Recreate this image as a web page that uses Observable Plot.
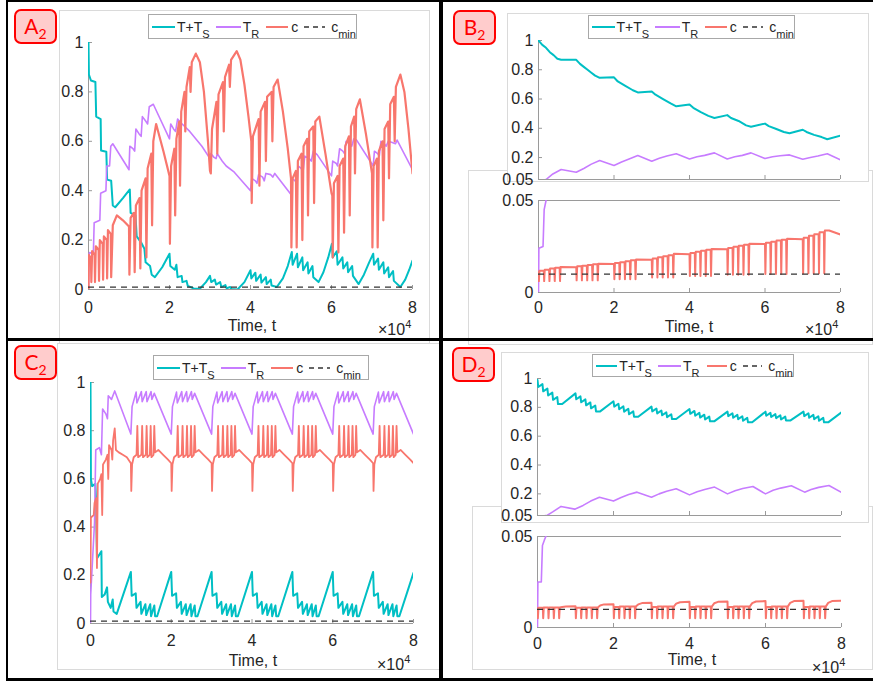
<!DOCTYPE html>
<html><head><meta charset="utf-8">
<script src="https://cdn.jsdelivr.net/npm/d3@7"></script>
<script src="https://cdn.jsdelivr.net/npm/@observablehq/plot@0.6"></script>
<style>
body{margin:0;background:#fff;}
#fig{position:relative;width:873px;height:681px;overflow:hidden;background:#fff;font-family:"Liberation Sans",Arial,sans-serif;color:#262626}
.gbox{position:absolute;border:1px solid #dadada;background:#fff;box-sizing:border-box}
.bl{position:absolute;background:#000}
.tag{position:absolute;box-sizing:border-box;width:43px;height:35px;border:2px solid #f00;border-radius:7px;background:#ffcccc;color:#f00;font-family:Lato,"Open Sans",sans-serif;font-size:21px;line-height:30px;text-align:center}
.tag sub{font-size:14px;vertical-align:-5px;line-height:0}
.legend{position:absolute;box-sizing:border-box;border:1px solid #a8a8a8;background:#fff;display:flex;align-items:center;font-size:14px;color:#262626;white-space:nowrap;padding-left:3px}
.legend sub{font-size:11px;vertical-align:-6px;line-height:0}
.legend svg{display:block}
.txt{position:absolute;font-size:16px;line-height:16px;color:#262626;white-space:nowrap}
.txt sup{font-size:11px;vertical-align:7px;line-height:0}
svg.plot{position:absolute}
</style>
</head><body>
<div id="fig"></div>
<script>
// ---------------- data (t in units of 10^4) ----------------
const xTicks = [0, 2, 4, 6, 8];
const yTicksFull = [0, 0.2, 0.4, 0.6, 0.8, 1];
const yTicksTop = [0.05, 0.2, 0.4, 0.6, 0.8, 1];
const yTicksBottom = [0, 0.05];
const cMin = 0.01;
const seriesNames = ["T+T_S", "T_R", "c", "c_min"];
const colors = {teal: "#00BFC4", purple: "#C77CFF", red: "#F8766D", min: "#333333"};

const aTeal = [[0,1.0],[0.01,0.87],[0.06,0.846],[0.17,0.84],[0.19,0.70],[0.30,0.69],[0.31,0.563],[0.44,0.558],[0.46,0.445],[0.56,0.44],[0.60,0.34],[0.66,0.333],[0.85,0.37],[1.02,0.405],[1.04,0.31],[1.16,0.30],[1.19,0.215],[1.30,0.19],[1.38,0.165],[1.41,0.11],[1.52,0.095],[1.56,0.06],[1.64,0.05],[1.82,0.09],[2.0,0.145],[2.02,0.095],[2.13,0.08],[2.17,0.1],[2.2,0.05],[2.3,0.055],[2.32,0.03],[2.42,0.035],[2.45,0.015],[2.6,0.004],[2.75,0.003],[2.9,0.03],[3.0,0.055],[3.03,0.03],[3.12,0.04],[3.15,0.02],[3.25,0.03],[3.28,0.01],[3.38,0.018],[3.41,0.005],[3.5,0.01],[3.53,0.002],[3.68,0.0],[3.85,0.03],[4.0,0.078],[4.02,0.045],[4.12,0.068],[4.14,0.035],[4.25,0.06],[4.27,0.028],[4.38,0.05],[4.4,0.022],[4.5,0.04],[4.52,0.016],[4.65,0.01],[4.8,0.045],[4.92,0.095],[5.02,0.152],[5.04,0.1],[5.15,0.145],[5.17,0.09],[5.28,0.13],[5.3,0.078],[5.41,0.11],[5.43,0.065],[5.53,0.095],[5.55,0.05],[5.68,0.03],[5.8,0.07],[5.92,0.13],[6.01,0.185],[6.03,0.13],[6.13,0.155],[6.15,0.1],[6.27,0.13],[6.29,0.085],[6.39,0.11],[6.41,0.07],[6.51,0.095],[6.53,0.055],[6.67,0.022],[6.8,0.06],[6.93,0.11],[7.03,0.145],[7.05,0.1],[7.15,0.125],[7.17,0.08],[7.28,0.11],[7.3,0.065],[7.4,0.09],[7.42,0.05],[7.52,0.075],[7.54,0.035],[7.7,0.01],[7.82,0.04],[7.92,0.08],[8.0,0.117]];
const aPurple = [[0,0],[0.01,0.14],[0.03,0.15],[0.12,0.145],[0.14,0.27],[0.28,0.28],[0.3,0.39],[0.43,0.4],[0.45,0.5],[0.52,0.5],[0.55,0.58],[0.6,0.59],[1.0,0.485],[1.02,0.58],[1.1,0.57],[1.14,0.56],[1.17,0.65],[1.25,0.63],[1.3,0.62],[1.33,0.7],[1.42,0.68],[1.46,0.67],[1.5,0.74],[1.6,0.75],[2.0,0.61],[2.03,0.67],[2.1,0.65],[2.15,0.64],[2.2,0.69],[2.28,0.675],[2.5,0.64],[2.8,0.58],[3.0,0.53],[3.02,0.55],[3.1,0.535],[3.15,0.53],[3.18,0.55],[3.3,0.52],[3.4,0.5],[3.6,0.475],[4.0,0.4],[4.03,0.45],[4.12,0.44],[4.16,0.43],[4.2,0.465],[4.3,0.455],[4.34,0.44],[4.38,0.47],[4.5,0.465],[4.55,0.455],[4.6,0.47],[5.0,0.385],[5.03,0.45],[5.1,0.44],[5.15,0.43],[5.18,0.5],[5.25,0.49],[5.3,0.48],[5.34,0.54],[5.45,0.53],[5.5,0.52],[5.55,0.56],[5.65,0.545],[6.0,0.46],[6.03,0.52],[6.12,0.51],[6.15,0.5],[6.2,0.57],[6.28,0.56],[6.32,0.55],[6.36,0.6],[6.45,0.59],[6.5,0.58],[6.55,0.61],[6.62,0.605],[7.03,0.5],[7.06,0.56],[7.14,0.55],[7.18,0.54],[7.22,0.6],[7.3,0.59],[7.35,0.58],[7.4,0.6],[7.5,0.595],[7.58,0.59],[7.62,0.605],[8.0,0.485]];
const aRed = [[0,0],[0.01,0.14],[0.06,0.125],[0.07,0.03],[0.09,0.155],[0.15,0.14],[0.16,0.03],[0.18,0.175],[0.25,0.16],[0.26,0.035],[0.28,0.2],[0.35,0.185],[0.36,0.04],[0.38,0.215],[0.45,0.2],[0.46,0.045],[0.48,0.24],[0.55,0.225],[0.56,0.05],[0.6,0.26],[0.7,0.3],[0.85,0.28],[1.0,0.255],[1.01,0.06],[1.04,0.29],[1.12,0.31],[1.14,0.07],[1.17,0.34],[1.26,0.37],[1.28,0.085],[1.31,0.4],[1.41,0.45],[1.43,0.13],[1.46,0.49],[1.55,0.55],[1.57,0.26],[1.6,0.6],[1.67,0.67],[1.85,0.56],[2.0,0.46],[2.01,0.185],[2.04,0.5],[2.12,0.57],[2.14,0.3],[2.17,0.61],[2.24,0.68],[2.26,0.42],[2.29,0.72],[2.37,0.8],[2.39,0.64],[2.42,0.82],[2.5,0.9],[2.52,0.8],[2.55,0.92],[2.65,0.955],[2.75,0.92],[2.85,0.8],[2.95,0.6],[3.0,0.48],[3.02,0.47],[3.05,0.65],[3.16,0.76],[3.18,0.55],[3.21,0.79],[3.32,0.84],[3.34,0.64],[3.37,0.86],[3.47,0.91],[3.49,0.82],[3.52,0.93],[3.66,0.965],[3.75,0.93],[3.85,0.83],[3.95,0.7],[4.02,0.6],[4.03,0.35],[4.06,0.62],[4.2,0.69],[4.22,0.42],[4.25,0.72],[4.36,0.76],[4.38,0.52],[4.41,0.78],[4.52,0.8],[4.54,0.6],[4.57,0.82],[4.67,0.85],[4.8,0.72],[4.92,0.57],[5.0,0.45],[5.01,0.17],[5.04,0.45],[5.12,0.48],[5.14,0.17],[5.17,0.52],[5.26,0.55],[5.28,0.2],[5.31,0.58],[5.4,0.61],[5.42,0.3],[5.45,0.64],[5.55,0.66],[5.57,0.35],[5.6,0.68],[5.7,0.7],[5.85,0.55],[6.0,0.39],[6.02,0.38],[6.03,0.13],[6.06,0.43],[6.15,0.46],[6.17,0.15],[6.2,0.5],[6.29,0.53],[6.31,0.23],[6.34,0.58],[6.43,0.62],[6.45,0.3],[6.48,0.66],[6.56,0.7],[6.58,0.47],[6.61,0.73],[6.7,0.77],[6.85,0.63],[7.0,0.47],[7.01,0.17],[7.04,0.5],[7.12,0.53],[7.14,0.17],[7.17,0.56],[7.26,0.6],[7.28,0.28],[7.31,0.65],[7.4,0.68],[7.42,0.45],[7.45,0.75],[7.54,0.78],[7.56,0.6],[7.59,0.82],[7.7,0.87],[7.8,0.8],[7.9,0.65],[8.0,0.47]];

const bTeal = [[0,1.0],[0.1,0.97],[0.2,0.95],[0.3,0.92],[0.4,0.9],[0.5,0.875],[0.6,0.868],[1.0,0.868],[1.1,0.84],[1.2,0.82],[1.3,0.8],[1.4,0.78],[1.5,0.76],[1.62,0.745],[2.0,0.748],[2.1,0.72],[2.3,0.69],[2.5,0.66],[2.63,0.645],[3.0,0.652],[3.1,0.63],[3.3,0.6],[3.5,0.57],[3.65,0.55],[4.0,0.562],[4.1,0.54],[4.3,0.51],[4.5,0.485],[4.66,0.47],[5.0,0.49],[5.1,0.47],[5.3,0.45],[5.5,0.42],[5.63,0.41],[6.0,0.432],[6.1,0.415],[6.3,0.395],[6.5,0.375],[6.65,0.366],[7.0,0.39],[7.1,0.375],[7.3,0.355],[7.5,0.34],[7.65,0.325],[8.0,0.35]];
const bPurple = [[0,0],[0.01,0.024],[0.12,0.025],[0.15,0.045],[0.2,0.05],[0.38,0.088],[0.6,0.118],[1.0,0.1],[1.2,0.125],[1.4,0.155],[1.62,0.18],[2.0,0.146],[2.2,0.17],[2.4,0.19],[2.63,0.214],[3.0,0.175],[3.2,0.195],[3.4,0.21],[3.65,0.226],[4.0,0.19],[4.2,0.205],[4.4,0.215],[4.66,0.232],[5.0,0.19],[5.2,0.205],[5.4,0.215],[5.63,0.232],[6.0,0.193],[6.2,0.205],[6.4,0.212],[6.65,0.218],[7.0,0.188],[7.2,0.2],[7.4,0.21],[7.65,0.226],[8.0,0.185]];
const bRed = [[0,0.011],[0.01,0.0062],[0.025,0.0118],[0.14,0.0118],[0.15,0.0062],[0.165,0.0124],[0.28,0.0124],[0.29,0.0062],[0.305,0.013],[0.42,0.013],[0.43,0.0062],[0.445,0.0134],[0.56,0.0134],[0.57,0.0062],[0.585,0.0138],[1.0,0.0137],
[1.01,0.0066],[1.025,0.0142],[1.14,0.0142],[1.15,0.0066],[1.165,0.0146],[1.28,0.0146],[1.29,0.0066],[1.305,0.015],[1.42,0.015],[1.43,0.0066],[1.445,0.0153],[1.56,0.0153],[1.57,0.0066],[1.585,0.0156],[2.0,0.0155],
[2.01,0.0072],[2.025,0.016],[2.14,0.016],[2.15,0.0072],[2.165,0.0165],[2.28,0.0165],[2.29,0.0072],[2.305,0.017],[2.42,0.017],[2.43,0.0072],[2.445,0.0175],[2.56,0.0175],[2.57,0.0072],[2.585,0.0179],[3.0,0.0178],
[3.01,0.0082],[3.025,0.0185],[3.14,0.0185],[3.15,0.0082],[3.165,0.0191],[3.28,0.0191],[3.29,0.0082],[3.305,0.0197],[3.42,0.0197],[3.43,0.0082],[3.445,0.0203],[3.56,0.0203],[3.57,0.0082],[3.585,0.021],[4.0,0.0208],
[4.01,0.009],[4.025,0.0215],[4.14,0.0215],[4.15,0.009],[4.165,0.0221],[4.28,0.0221],[4.29,0.009],[4.305,0.0227],[4.42,0.0227],[4.43,0.009],[4.445,0.0232],[4.56,0.0232],[4.57,0.009],[4.585,0.0237],[5.0,0.0235],
[5.01,0.0096],[5.025,0.0242],[5.14,0.0242],[5.15,0.0096],[5.165,0.0248],[5.28,0.0248],[5.29,0.0096],[5.305,0.0254],[5.42,0.0254],[5.43,0.0096],[5.445,0.026],[5.56,0.026],[5.57,0.0096],[5.585,0.0265],[6.0,0.0263],
[6.01,0.0101],[6.025,0.027],[6.14,0.027],[6.15,0.0101],[6.165,0.0276],[6.28,0.0276],[6.29,0.0101],[6.305,0.0282],[6.42,0.0282],[6.43,0.0101],[6.445,0.0287],[6.56,0.0287],[6.57,0.0101],[6.585,0.0292],[7.0,0.029],
[7.01,0.0104],[7.025,0.0298],[7.14,0.0298],[7.15,0.0104],[7.165,0.0308],[7.28,0.0308],[7.29,0.0104],[7.305,0.0317],[7.42,0.0317],[7.43,0.0104],[7.445,0.0327],[7.56,0.0327],[7.57,0.0104],[7.585,0.0337],[7.7,0.0337],[8.0,0.0315]];

const cTeal = [[0,1.0],[0.01,0.6],[0.04,0.57],[0.12,0.58],[0.14,0.5],[0.16,0.27],[0.27,0.3],[0.28,0.11],[0.35,0.12],[0.41,0.15],[0.43,0.09],[0.5,0.065],[0.55,0.1],[0.57,0.05],[0.65,0.04],
[1,0.214],[1.02,0.115],[1.12,0.125],[1.14,0.065],[1.24,0.09],[1.26,0.04],[1.36,0.08],[1.38,0.035],[1.48,0.08],[1.5,0.03],[1.58,0.075],[1.6,0.03],[1.65,0.03],
[2,0.214],[2.02,0.115],[2.12,0.125],[2.14,0.065],[2.24,0.09],[2.26,0.04],[2.36,0.08],[2.38,0.035],[2.48,0.08],[2.5,0.03],[2.58,0.075],[2.6,0.03],[2.65,0.03],
[3,0.214],[3.02,0.115],[3.12,0.125],[3.14,0.065],[3.24,0.09],[3.26,0.04],[3.36,0.08],[3.38,0.035],[3.48,0.08],[3.5,0.03],[3.58,0.075],[3.6,0.03],[3.65,0.03],
[4,0.214],[4.02,0.115],[4.12,0.125],[4.14,0.065],[4.24,0.09],[4.26,0.04],[4.36,0.08],[4.38,0.035],[4.48,0.08],[4.5,0.03],[4.58,0.075],[4.6,0.03],[4.65,0.03],
[5,0.214],[5.02,0.115],[5.12,0.125],[5.14,0.065],[5.24,0.09],[5.26,0.04],[5.36,0.08],[5.38,0.035],[5.48,0.08],[5.5,0.03],[5.58,0.075],[5.6,0.03],[5.65,0.03],
[6,0.214],[6.02,0.115],[6.12,0.125],[6.14,0.065],[6.24,0.09],[6.26,0.04],[6.36,0.08],[6.38,0.035],[6.48,0.08],[6.5,0.03],[6.58,0.075],[6.6,0.03],[6.65,0.03],
[7,0.214],[7.02,0.115],[7.12,0.125],[7.14,0.065],[7.24,0.09],[7.26,0.04],[7.36,0.08],[7.38,0.035],[7.48,0.08],[7.5,0.03],[7.58,0.075],[7.6,0.03],[7.65,0.03],
[8,0.21]];
const cPurple = [[0,0],[0.005,0.12],[0.1,0.42],[0.13,0.72],[0.22,0.73],[0.27,0.7],[0.3,0.89],[0.38,0.87],[0.42,0.85],[0.44,0.945],[0.52,0.93],[0.6,0.965],
[1,0.786],[1.03,0.9],[1.13,0.96],[1.15,0.915],[1.26,0.962],[1.28,0.92],[1.38,0.962],[1.4,0.92],[1.5,0.962],[1.52,0.93],[1.58,0.955],
[2,0.786],[2.03,0.9],[2.13,0.96],[2.15,0.915],[2.26,0.962],[2.28,0.92],[2.38,0.962],[2.4,0.92],[2.5,0.962],[2.52,0.93],[2.58,0.955],
[3,0.786],[3.03,0.9],[3.13,0.96],[3.15,0.915],[3.26,0.962],[3.28,0.92],[3.38,0.962],[3.4,0.92],[3.5,0.962],[3.52,0.93],[3.58,0.955],
[4,0.786],[4.03,0.9],[4.13,0.96],[4.15,0.915],[4.26,0.962],[4.28,0.92],[4.38,0.962],[4.4,0.92],[4.5,0.962],[4.52,0.93],[4.58,0.955],
[5,0.786],[5.03,0.9],[5.13,0.96],[5.15,0.915],[5.26,0.962],[5.28,0.92],[5.38,0.962],[5.4,0.92],[5.5,0.962],[5.52,0.93],[5.58,0.955],
[6,0.786],[6.03,0.9],[6.13,0.96],[6.15,0.915],[6.26,0.962],[6.28,0.92],[6.38,0.962],[6.4,0.92],[6.5,0.962],[6.52,0.93],[6.58,0.955],
[7,0.786],[7.03,0.9],[7.13,0.96],[7.15,0.915],[7.26,0.962],[7.28,0.92],[7.38,0.962],[7.4,0.92],[7.5,0.962],[7.52,0.93],[7.58,0.955],
[8,0.786]];
const cRed = [[0,0.17],[0.01,0.44],[0.08,0.45],[0.1,0.5],[0.14,0.52],[0.16,0.23],[0.18,0.58],[0.24,0.6],[0.27,0.62],[0.29,0.45],[0.31,0.66],[0.38,0.68],[0.42,0.7],[0.44,0.6],[0.46,0.74],[0.52,0.72],[0.54,0.68],[0.56,0.76],[0.6,0.81],[0.63,0.72],[0.7,0.71],[0.8,0.7],[0.9,0.69],
[1,0.665],[1.01,0.55],[1.03,0.66],[1.07,0.69],[1.14,0.7],[1.16,0.82],[1.18,0.69],[1.26,0.7],[1.28,0.82],[1.3,0.69],[1.37,0.7],[1.39,0.82],[1.41,0.69],[1.47,0.7],[1.49,0.82],[1.51,0.69],[1.56,0.7],[1.58,0.82],[1.6,0.71],[1.68,0.72],[1.8,0.7],[1.92,0.68],
[2,0.665],[2.01,0.55],[2.03,0.66],[2.07,0.69],[2.14,0.7],[2.16,0.82],[2.18,0.69],[2.26,0.7],[2.28,0.82],[2.3,0.69],[2.37,0.7],[2.39,0.82],[2.41,0.69],[2.47,0.7],[2.49,0.82],[2.51,0.69],[2.56,0.7],[2.58,0.82],[2.6,0.71],[2.68,0.72],[2.8,0.7],[2.92,0.68],
[3,0.665],[3.01,0.55],[3.03,0.66],[3.07,0.69],[3.14,0.7],[3.16,0.82],[3.18,0.69],[3.26,0.7],[3.28,0.82],[3.3,0.69],[3.37,0.7],[3.39,0.82],[3.41,0.69],[3.47,0.7],[3.49,0.82],[3.51,0.69],[3.56,0.7],[3.58,0.82],[3.6,0.71],[3.68,0.72],[3.8,0.7],[3.92,0.68],
[4,0.665],[4.01,0.55],[4.03,0.66],[4.07,0.69],[4.14,0.7],[4.16,0.82],[4.18,0.69],[4.26,0.7],[4.28,0.82],[4.3,0.69],[4.37,0.7],[4.39,0.82],[4.41,0.69],[4.47,0.7],[4.49,0.82],[4.51,0.69],[4.56,0.7],[4.58,0.82],[4.6,0.71],[4.68,0.72],[4.8,0.7],[4.92,0.68],
[5,0.665],[5.01,0.55],[5.03,0.66],[5.07,0.69],[5.14,0.7],[5.16,0.82],[5.18,0.69],[5.26,0.7],[5.28,0.82],[5.3,0.69],[5.37,0.7],[5.39,0.82],[5.41,0.69],[5.47,0.7],[5.49,0.82],[5.51,0.69],[5.56,0.7],[5.58,0.82],[5.6,0.71],[5.68,0.72],[5.8,0.7],[5.92,0.68],
[6,0.665],[6.01,0.55],[6.03,0.66],[6.07,0.69],[6.14,0.7],[6.16,0.82],[6.18,0.69],[6.26,0.7],[6.28,0.82],[6.3,0.69],[6.37,0.7],[6.39,0.82],[6.41,0.69],[6.47,0.7],[6.49,0.82],[6.51,0.69],[6.56,0.7],[6.58,0.82],[6.6,0.71],[6.68,0.72],[6.8,0.7],[6.92,0.68],
[7,0.665],[7.01,0.55],[7.03,0.66],[7.07,0.69],[7.14,0.7],[7.16,0.82],[7.18,0.69],[7.26,0.7],[7.28,0.82],[7.3,0.69],[7.37,0.7],[7.39,0.82],[7.41,0.69],[7.47,0.7],[7.49,0.82],[7.51,0.69],[7.56,0.7],[7.58,0.82],[7.6,0.71],[7.68,0.72],[7.8,0.7],[7.92,0.68],
[8,0.665]];

const dTeal = [[0,0.99],[0.02,0.941],[0.13,0.961],[0.15,0.911],[0.26,0.931],[0.28,0.882],[0.39,0.902],[0.41,0.852],[0.52,0.872],[0.54,0.823],[0.65,0.823],
[1,0.897],[1.02,0.856],[1.13,0.876],[1.15,0.835],[1.26,0.855],[1.28,0.814],[1.39,0.834],[1.41,0.793],[1.52,0.813],[1.54,0.772],[1.65,0.772],
[2,0.842],[2.02,0.805],[2.13,0.825],[2.15,0.787],[2.26,0.807],[2.28,0.77],[2.39,0.79],[2.41,0.752],[2.52,0.772],[2.54,0.735],[2.65,0.735],
[3,0.805],[3.02,0.772],[3.13,0.792],[3.15,0.758],[3.26,0.778],[3.28,0.745],[3.39,0.765],[3.41,0.732],[3.52,0.752],[3.54,0.719],[3.65,0.719],
[4,0.788],[4.02,0.755],[4.13,0.775],[4.15,0.742],[4.26,0.762],[4.28,0.729],[4.39,0.749],[4.41,0.716],[4.52,0.736],[4.54,0.703],[4.65,0.703],
[5,0.77],[5.02,0.739],[5.13,0.759],[5.15,0.728],[5.26,0.748],[5.28,0.718],[5.39,0.738],[5.41,0.707],[5.52,0.727],[5.54,0.696],[5.65,0.696],
[6,0.77],[6.02,0.742],[6.13,0.762],[6.15,0.733],[6.26,0.753],[6.28,0.725],[6.39,0.745],[6.41,0.716],[6.52,0.736],[6.54,0.708],[6.65,0.708],
[7,0.77],[7.02,0.739],[7.13,0.759],[7.15,0.728],[7.26,0.748],[7.28,0.718],[7.39,0.738],[7.41,0.707],[7.52,0.727],[7.54,0.696],[7.65,0.696],
[8,0.765]];
const dPurple = [[0,0],[0.01,0.025],[0.1,0.025],[0.13,0.045],[0.18,0.048],[0.22,0.05],[0.26,0.052],[0.4,0.075],[0.62,0.113],[0.98,0.094],[1.2,0.12],[1.4,0.15],[1.63,0.177],[2.0,0.15],[2.2,0.175],[2.4,0.195],[2.62,0.212],[3.0,0.177],[3.2,0.2],[3.4,0.218],[3.65,0.235],[4.0,0.193],[4.2,0.215],[4.4,0.23],[4.66,0.247],[5.0,0.2],[5.2,0.222],[5.4,0.237],[5.67,0.251],[6.0,0.2],[6.2,0.225],[6.4,0.24],[6.68,0.256],[7.03,0.212],[7.2,0.23],[7.4,0.245],[7.67,0.258],[8.0,0.21]];
const dRed = [[0,0.0105],[0.01,0.0051],[0.025,0.0108],[0.14,0.0108],[0.15,0.0051],[0.165,0.011],[0.28,0.011],[0.29,0.0051],[0.305,0.011],[0.42,0.011],[0.43,0.0051],[0.445,0.011],[0.56,0.011],[0.57,0.0051],[0.585,0.011],[0.65,0.0113],[0.75,0.0116],[1.0,0.0117],
[1.01,0.0051],[1.025,0.0108],[1.14,0.0108],[1.15,0.0051],[1.165,0.011],[1.28,0.011],[1.29,0.0051],[1.305,0.011],[1.42,0.011],[1.43,0.0051],[1.445,0.011],[1.56,0.011],[1.57,0.0051],[1.585,0.011],[1.65,0.0121],[1.75,0.0127],[2.0,0.0128],
[2.01,0.0051],[2.025,0.0112],[2.14,0.0112],[2.15,0.0051],[2.165,0.0115],[2.28,0.0115],[2.29,0.0051],[2.305,0.0115],[2.42,0.0115],[2.43,0.0051],[2.445,0.0115],[2.56,0.0115],[2.57,0.0051],[2.585,0.0115],[2.65,0.0127],[2.75,0.0134],[3.0,0.0136],
[3.01,0.0051],[3.025,0.0112],[3.14,0.0112],[3.15,0.0051],[3.165,0.0115],[3.28,0.0115],[3.29,0.0051],[3.305,0.0115],[3.42,0.0115],[3.43,0.0051],[3.445,0.0115],[3.56,0.0115],[3.57,0.0051],[3.585,0.0115],[3.65,0.0131],[3.75,0.0139],[4.0,0.0141],
[4.01,0.0051],[4.025,0.0112],[4.14,0.0112],[4.15,0.0051],[4.165,0.0115],[4.28,0.0115],[4.29,0.0051],[4.305,0.0115],[4.42,0.0115],[4.43,0.0051],[4.445,0.0115],[4.56,0.0115],[4.57,0.0051],[4.585,0.0115],[4.65,0.0133],[4.75,0.0141],[5.0,0.0143],
[5.01,0.0051],[5.025,0.0112],[5.14,0.0112],[5.15,0.0051],[5.165,0.0115],[5.28,0.0115],[5.29,0.0051],[5.305,0.0115],[5.42,0.0115],[5.43,0.0051],[5.445,0.0115],[5.56,0.0115],[5.57,0.0051],[5.585,0.0115],[5.65,0.0134],[5.75,0.0143],[6.0,0.0145],
[6.01,0.0051],[6.025,0.0112],[6.14,0.0112],[6.15,0.0051],[6.165,0.0115],[6.28,0.0115],[6.29,0.0051],[6.305,0.0115],[6.42,0.0115],[6.43,0.0051],[6.445,0.0115],[6.56,0.0115],[6.57,0.0051],[6.585,0.0115],[6.65,0.0135],[6.75,0.0145],[7.0,0.0147],
[7.01,0.0051],[7.025,0.0112],[7.14,0.0112],[7.15,0.0051],[7.165,0.0115],[7.28,0.0115],[7.29,0.0051],[7.305,0.0115],[7.42,0.0115],[7.43,0.0051],[7.445,0.0115],[7.56,0.0115],[7.57,0.0051],[7.585,0.0115],[7.65,0.0135],[7.75,0.0145],[8.0,0.0147]];

// ---------------- layout helpers ----------------
const fig = document.getElementById("fig");
function el(cls, css, html) {
  const d = document.createElement("div");
  d.className = cls;
  Object.assign(d.style, css);
  if (html != null) d.innerHTML = html;
  fig.appendChild(d);
  return d;
}
const px = v => v + "px";
function gbox(l, t, w, h) { el("gbox", {left: px(l), top: px(t), width: px(w), height: px(h)}); }

function subplot({x0, x1, y0, y1, yDomain, yTicks, xLabels, xPad = 11, topLine = false, teal, purple, red, redW = 2}) {
  const mL = 52, mR = 12, mT = 12, mB = xLabels ? 34 : 8;
  const pw = x1 - x0, ph = y1 - y0;
  const axisColor = "#9a9a9a";
  const marks = [
    Plot.ruleX([0], {stroke: axisColor, strokeWidth: 1}),
    Plot.ruleY([yDomain[0]], {stroke: axisColor, strokeWidth: 1}),
    topLine ? Plot.ruleY([yDomain[1]], {stroke: axisColor, strokeWidth: 1}) : null,
    Plot.tickX(xTicks, {x: d => d, insetTop: ph - 4, stroke: axisColor}),
    Plot.tickY(yTicks, {y: d => d, insetRight: pw - 4, stroke: axisColor}),
    Plot.line(teal, {x: d => d[0], y: d => d[1], stroke: colors.teal, strokeWidth: 2, clip: true}),
    Plot.line(purple, {x: d => d[0], y: d => d[1], stroke: colors.purple, strokeWidth: 1.6, clip: true}),
    Plot.line(red, {x: d => d[0], y: d => d[1], stroke: colors.red, strokeWidth: redW, clip: true}),
    (cMin >= yDomain[0] && cMin <= yDomain[1]) ? Plot.ruleY([cMin], {stroke: colors.min, strokeWidth: 1.3, strokeDasharray: "6,5"}) : null
  ];
  const svg = Plot.plot({
    width: pw + mL + mR, height: ph + mT + mB,
    marginLeft: mL, marginRight: mR, marginTop: mT, marginBottom: mB,
    x: {domain: [0, 8], axis: xLabels ? "bottom" : null, ticks: xTicks, tickSize: 0, tickPadding: xPad, tickFormat: d => String(d), label: null},
    y: {domain: yDomain, ticks: yTicks, tickSize: 0, tickPadding: 5, tickFormat: d => String(d), label: null},
    style: {fontFamily: '"Liberation Sans", Arial, sans-serif', fontSize: "16px", color: "#262626", background: "transparent", overflow: "visible"},
    marks
  });
  svg.classList.add("plot");
  svg.style.position = "absolute";
  svg.style.left = px(x0 - mL);
  svg.style.top = px(y0 - mT);
  fig.appendChild(svg);
}

function swatch(color, dashed, w) {
  return `<svg width="${w}" height="10"><line x1="0" y1="5" x2="${w}" y2="5" stroke="${color}" stroke-width="${dashed ? 1.3 : 2}" ${dashed ? 'stroke-dasharray="5,4"' : ''}/></svg>`;
}
function legend(l, t, w, h) {
  const html =
    `${swatch(colors.teal, false, 23)}<span style="margin-left:2px;margin-right:6px">T+T<sub>S</sub></span>` +
    `${swatch(colors.purple, false, 25)}<span style="margin-left:2px;margin-right:7px">T<sub>R</sub></span>` +
    `${swatch(colors.red, false, 22)}<span style="margin-left:3px;margin-right:6px">c</span>` +
    `${swatch(colors.min, true, 21)}<span style="margin-left:6px">c<sub>min</sub></span>`;
  el("legend", {left: px(l), top: px(t), width: px(w), height: px(h)}, html);
}
function tag(l, t, letter) { el("tag", {left: px(l), top: px(t)}, `${letter}<sub>2</sub>`); }
function xlabel(cx, base) { el("txt", {left: px(cx), top: px(base - 13.5), transform: "translateX(-50%)"}, "Time, t"); }
function xexp(l, base) { el("txt", {left: px(l), top: px(base - 13.5)}, "×10<sup>4</sup>"); }

// ---------------- background boxes ----------------
gbox(59, 10, 371, 340);           // A
gbox(468, 170, 405, 175);         // B lower
gbox(507, 13, 362, 169);          // B upper
gbox(57, 343, 385, 327);          // C
gbox(472, 506, 401, 164);         // D lower
gbox(501, 352, 368, 171);         // D upper

// ---------------- panels ----------------
subplot({x0: 88, x1: 412, y0: 42, y1: 289, yDomain: [0, 1], yTicks: yTicksFull, xLabels: true, xPad: 12, teal: aTeal, purple: aPurple, red: aRed, redW: 2.2});
subplot({x0: 538, x1: 840, y0: 40, y1: 179, yDomain: [0.05, 1], yTicks: yTicksTop, xLabels: false, teal: bTeal, purple: bPurple, red: bRed});
subplot({x0: 538, x1: 840, y0: 200, y1: 292, yDomain: [0, 0.05], yTicks: yTicksBottom, xLabels: true, xPad: 9, topLine: true, teal: bTeal, purple: bPurple, red: bRed});
subplot({x0: 90, x1: 413, y0: 382, y1: 623, yDomain: [0, 1], yTicks: yTicksFull, xLabels: true, xPad: 11, teal: cTeal, purple: cPurple, red: cRed, redW: 1.8});
subplot({x0: 537, x1: 841, y0: 378, y1: 515, yDomain: [0.05, 1], yTicks: yTicksTop, xLabels: false, teal: dTeal, purple: dPurple, red: dRed});
subplot({x0: 537, x1: 841, y0: 536, y1: 627, yDomain: [0, 0.05], yTicks: yTicksBottom, xLabels: true, xPad: 10, topLine: true, teal: dTeal, purple: dPurple, red: dRed});

// ---------------- legends, labels ----------------
legend(148, 14, 209, 25);
legend(588, 15, 207, 24);
legend(153, 355, 216, 25);
legend(592, 354, 202, 23);

xlabel(252, 331); xexp(378, 335);
xlabel(689, 332); xexp(805, 335);
xlabel(253, 666); xexp(377, 670);
xlabel(692, 665); xexp(812, 673);

tag(14, 9, "A");
tag(453, 10, "B");
tag(14, 345, "C");
tag(452, 347, "D");

// ---------------- black frame lines ----------------
el("bl", {left: "6px", top: "0px", width: "867px", height: "2px"});
el("bl", {left: "6px", top: "0px", width: "2px", height: "681px"});
el("bl", {left: "6px", top: "338px", width: "867px", height: "3px"});
el("bl", {left: "6px", top: "678px", width: "867px", height: "3px"});
el("bl", {left: "439px", top: "0px", width: "4px", height: "681px"});
</script>
</body></html>
